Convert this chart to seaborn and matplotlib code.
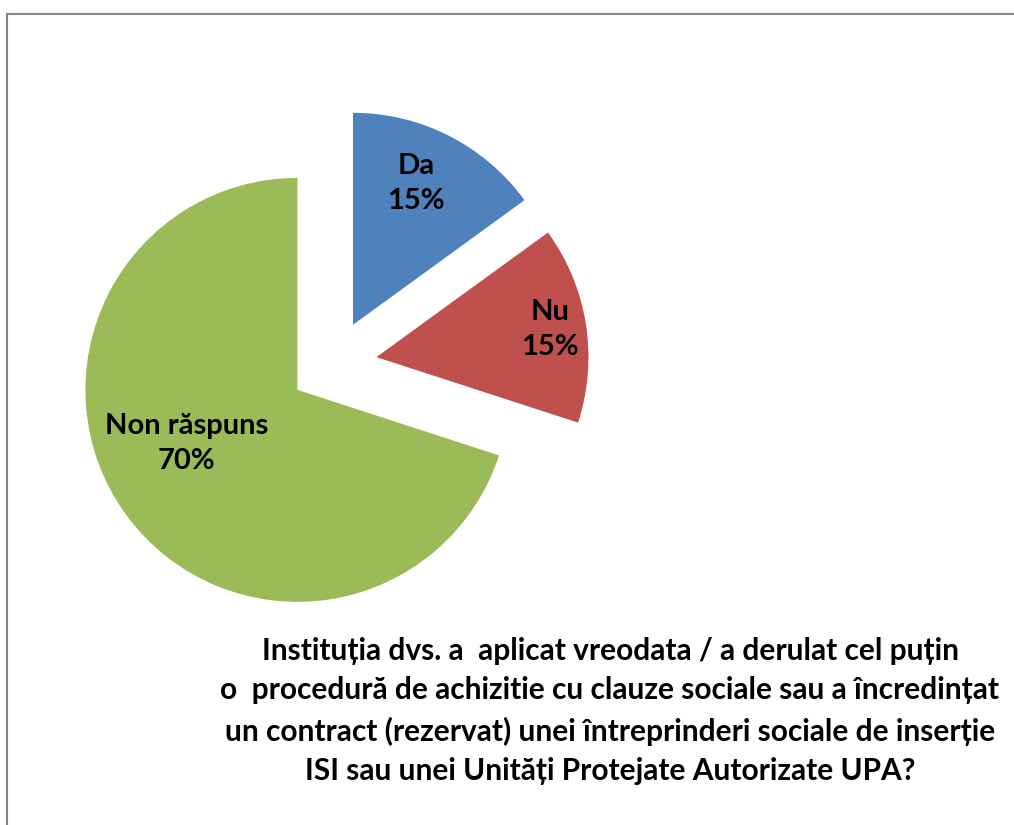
import numpy as np
import matplotlib.pyplot as plt
import seaborn as sns
from matplotlib.patches import Rectangle

# ================= DATE =================
categorii = ["Da", "Nu", "Non răspuns"]
valori = [15, 15, 70]
culori = ["#4F81BD", "#C0504D", "#9BBB59"]
titlu = ("Instituția dvs. a  aplicat vreodata / a derulat cel puțin\n"
         "o  procedură de achizitie cu clauze sociale sau a încredințat\n"
         "un contract (rezervat) unei întreprinderi sociale de inserție\n"
         "ISI sau unei Unități Protejate Autorizate UPA?")

# distanta etichetelor fata de varful fiecarei felii (fractie din raza)
dist_eticheta = [0.73, 0.83, 0.58]
unghi_extra = [3, 0, -10]

sns.set_theme(style="white")
plt.rcParams['font.family'] = ['Lato', 'DejaVu Sans']
plt.rcParams['text.color'] = 'black'

W, H = 1014, 825
fig = plt.figure(figsize=(W / 100, H / 100), dpi=100)
ax = fig.add_axes([0, 0, 1, 1])

raza = 212
# explode in pie e in unitati de date (aici pixeli)
wedges, texts, autotexts = ax.pie(
    valori, colors=culori, startangle=90, counterclock=False,
    explode=[44] * 3, radius=raza, center=(333, H - 364),
    autopct=lambda p: f"{p:.0f}%", pctdistance=0.7,
    textprops=dict(fontsize=21, fontweight='bold', color='black'),
    wedgeprops=dict(linewidth=0),
)

for w, t, cat, d, da in zip(wedges, autotexts, categorii, dist_eticheta, unghi_extra):
    ang = np.deg2rad((w.theta1 + w.theta2) / 2 + da)
    cx, cy = w.center
    t.set_position((cx + d * raza * np.cos(ang), cy + d * raza * np.sin(ang)))
    t.set_text(f"{cat}\n{t.get_text()}")
    t.set_linespacing(1.45)
    t.set_ha('center')
    t.set_va('center')

# limitele dupa pie, ca sa nu le rescrie
ax.set_xlim(0, W)
ax.set_ylim(0, H)
ax.set_aspect('equal')
ax.axis('off')

fig.text(610 / W, 1 - 711 / H, titlu, ha='center', va='center',
         fontsize=21.5, fontweight='bold', linespacing=1.5, color='black')

# chenar gri
fig.patches.append(Rectangle((7 / W, -0.05), 1.05, 1 - 14 / H + 0.05,
                             transform=fig.transFigure, fill=False,
                             edgecolor='#868686', linewidth=1.5))

plt.savefig("out.png", dpi=100)
